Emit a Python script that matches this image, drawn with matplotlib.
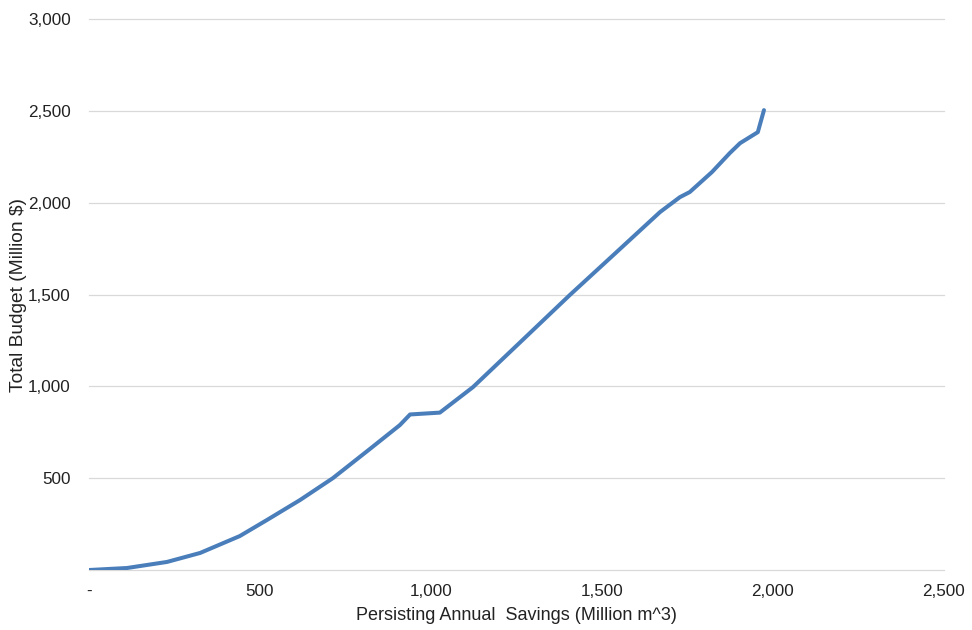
import matplotlib
matplotlib.use("Agg")
import matplotlib.pyplot as plt
from matplotlib.ticker import FuncFormatter

plt.rcParams['font.family'] = ['Liberation Sans', 'DejaVu Sans']

savings = [0, 111, 228, 325, 441, 520, 617, 713, 820, 909, 939, 1026, 1123,
           1270, 1406, 1540, 1670, 1728, 1757, 1822, 1874, 1904, 1956, 1974]
budget = [0, 11, 44, 93, 185, 272, 381, 500, 657, 789, 847, 857, 996,
          1256, 1497, 1726, 1949, 2030, 2058, 2167, 2270, 2324, 2384, 2504]

x_ticks = [0, 500, 1000, 1500, 2000, 2500]
y_ticks = [0, 500, 1000, 1500, 2000, 2500, 3000]

fig = plt.figure(figsize=(9.72, 6.3), dpi=100)
ax = fig.add_axes([0.0916, 0.0952, 0.8794, 0.8746])

ax.plot(savings, budget, color='#4A7EBB', lw=2.9, solid_capstyle='round', zorder=3)

ax.set_xlim(0, 2500)
ax.set_ylim(0, 3000)
ax.set_xticks(x_ticks)
ax.set_yticks(y_ticks)
ax.xaxis.set_major_formatter(FuncFormatter(lambda v, p: '-' if v == 0 else f'{v:,.0f}'))
ax.yaxis.set_major_formatter(FuncFormatter(lambda v, p: '' if v == 0 else f'{v:,.0f}'))
ax.grid(axis='y', color='#D9D9D9', lw=0.9)
for gl in ax.get_ygridlines():
    gl.set_clip_on(False)
ax.set_axisbelow(True)
for s in ax.spines.values():
    s.set_visible(False)
ax.tick_params(length=0, labelsize=12.3, colors='#222222', pad=10)
ax.tick_params(axis='y', pad=13)

ax.set_xlabel('Persisting Annual  Savings (Million m^3)', fontsize=13, color='#222222')
ax.xaxis.set_label_coords(0.5, -0.068)
ax.set_ylabel('Total Budget (Million $)', fontsize=13.8, color='#222222')
ax.yaxis.set_label_coords(-0.072, 0.5)

fig.savefig('out.png', dpi=100)
